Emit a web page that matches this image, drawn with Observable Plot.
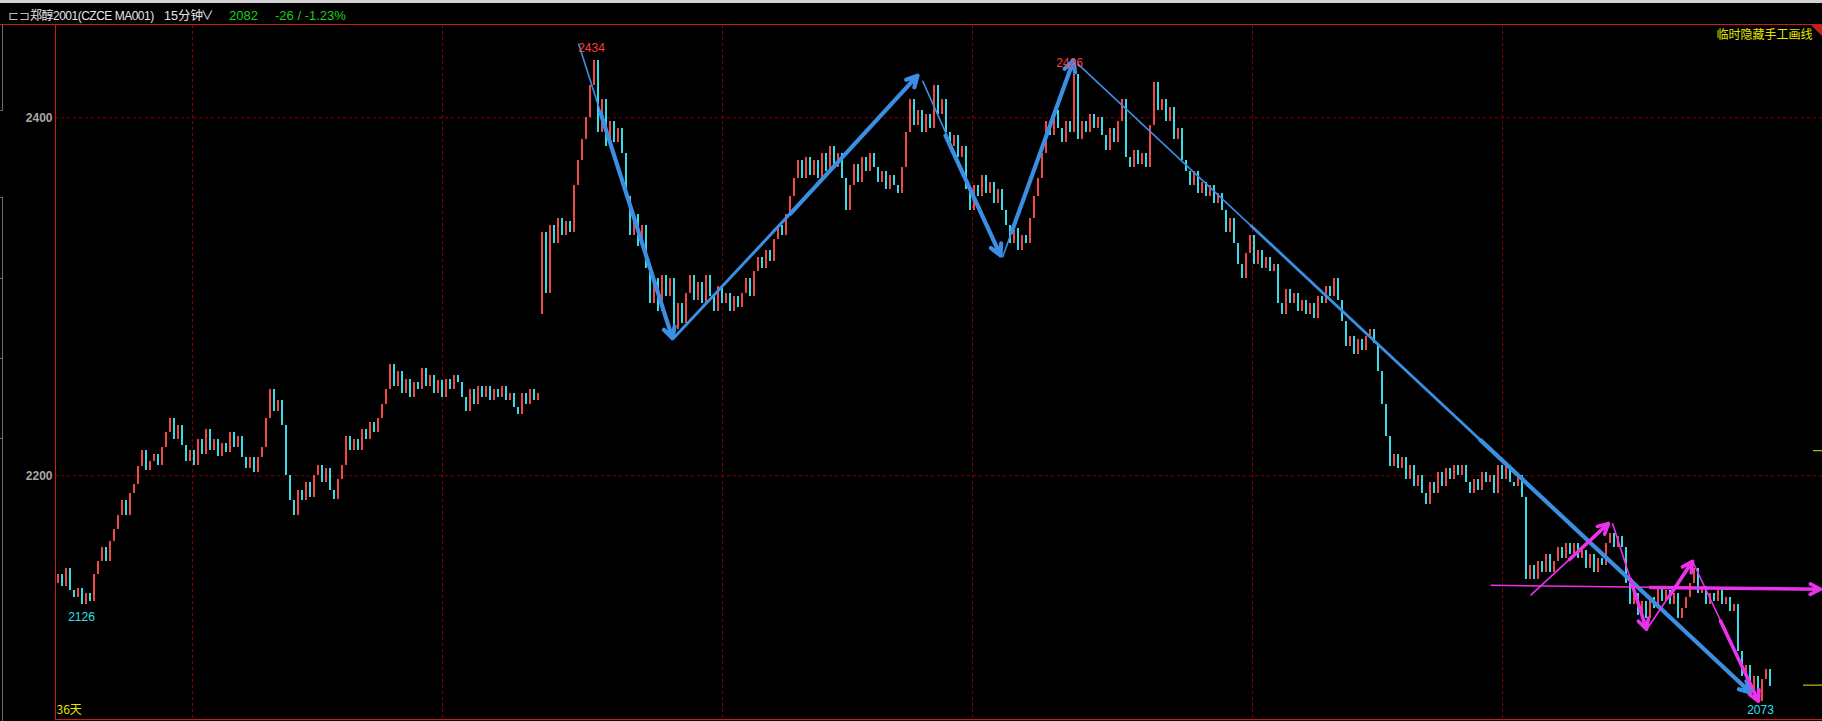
<!DOCTYPE html>
<html><head><meta charset="utf-8">
<script src="https://cdn.jsdelivr.net/npm/d3@7"></script>
<script src="https://cdn.jsdelivr.net/npm/@observablehq/plot@0.6"></script>
<style>
html,body{margin:0;padding:0;background:#000;width:1822px;height:721px;overflow:hidden;}
#hdr{position:relative;height:25px;box-sizing:border-box;border-top:3px solid #d2d2d2;border-bottom:1px solid #c41e1e;background:#000;font-family:"Liberation Sans","Noto Sans CJK SC",sans-serif;font-size:12.5px;color:#e6e6e6;}
#hdr span{position:absolute;top:5px;white-space:nowrap;line-height:16px;}
#chart{position:relative;}
.gl{position:absolute;background:#6a6a6a;}
#tri{position:absolute;right:0;top:25px;width:0;height:0;border-left:11px solid transparent;border-top:11px solid #c41e1e;}
</style></head><body>
<div id="hdr">
 <span style="left:8px;color:#bdbdbd">⊏⊐</span>
 <span style="left:30px;font-size:12px;letter-spacing:-0.5px">郑醇2001(CZCE MA001)</span>
 <span style="left:164px">15分钟</span><span style="left:201px">∨</span>
 <span style="left:229px;color:#1ecb1e;font-size:13px">2082</span>
 <span style="left:275px;color:#1ecb1e;font-size:13px">-26 / -1.23%</span>
</div>
<div id="chart"></div>
<div class="gl" style="left:2px;top:25px;width:1px;height:85px"></div>
<div class="gl" style="left:0px;top:110px;width:3px;height:1px"></div>
<div class="gl" style="left:0px;top:197px;width:3px;height:1px"></div>
<div class="gl" style="left:2px;top:197px;width:1px;height:524px"></div>
<div class="gl" style="left:0px;top:278px;width:3px;height:1px"></div>
<div class="gl" style="left:0px;top:358px;width:3px;height:1px"></div>
<div class="gl" style="left:0px;top:438px;width:3px;height:1px"></div>
<div id="tri"></div>
<script>
// ---- data (15-minute bars, each entry = close; open = previous close) ----
const open1 = 2140;
const close1 = [2145,2138,2148,2136,2132,2137,2128,2134,2130,2145,
 2152,2160,2152,2163,2170,2178,2186,2178,2190,2195,
 2205,2214,2203,2208,2212,2206,2216,2224,2232,2220,
 2228,2217,2208,2214,2206,2220,2212,2226,2214,2220,
 2211,2218,2213,2224,2216,2222,2210,2204,2210,2202,
 2210,2216,2232,2248,2236,2242,2228,2200,2186,2178,
 2192,2186,2196,2188,2200,2206,2196,2204,2192,2187,
 2198,2206,2222,2214,2220,2214,2226,2220,2230,2224,
 2232,2240,2248,2262,2250,2258,2246,2254,2244,2252,
 2248,2260,2250,2256,2246,2253,2244,2254,2248,2256,
 2252,2244,2236,2248,2240,2250,2244,2250,2242,2248,
 2244,2250,2242,2246,2238,2234,2246,2240,2248,2242,
 2246];
const open2 = 2290;
const close2 = [2336,2302,2340,2330,2344,2334,2342,2336,2362,2376,
 2388,2400,2418,2432,2392,2410,2384,2398,2386,2394,
 2380,2356,2334,2346,2328,2340,2316,2296,2310,2292,
 2312,2300,2310,2282,2296,2285,2302,2312,2298,2308,
 2296,2312,2300,2292,2306,2296,2302,2292,2300,2294,
 2302,2310,2300,2314,2322,2316,2326,2320,2332,2340,
 2334,2346,2356,2366,2376,2366,2378,2368,2376,2366,
 2380,2370,2384,2372,2380,2366,2348,2362,2374,2364,
 2378,2370,2380,2372,2364,2370,2360,2368,2362,2358,
 2372,2392,2410,2396,2404,2392,2402,2394,2418,2402,
 2410,2392,2384,2390,2378,2384,2360,2348,2362,2356,
 2368,2358,2364,2352,2360,2348,2340,2330,2338,2326,
 2334,2330,2344,2356,2366,2380,2398,2390,2404,2394,
 2386,2398,2392,2424,2388,2398,2392,2402,2394,2400,
 2390,2382,2394,2386,2398,2410,2378,2372,2382,2374,
 2380,2372,2396,2420,2404,2410,2398,2406,2388,2394,
 2376,2370,2362,2370,2358,2364,2356,2362,2352,2358,
 2348,2336,2344,2330,2318,2310,2324,2334,2318,2326,
 2316,2322,2314,2318,2296,2290,2304,2296,2302,2292,
 2298,2290,2296,2288,2300,2296,2306,2300,2310,2298,
 2286,2272,2278,2268,2276,2270,2278,2282,2274,2258,
 2240,2222,2205,2212,2204,2210,2198,2206,2194,2200,
 2190,2184,2196,2190,2202,2194,2204,2198,2206,2200,
 2206,2196,2190,2198,2192,2202,2196,2200,2190,2206,
 2198,2206,2196,2194,2200,2188,2142,2150,2142,2152,
 2146,2156,2146,2152,2160,2154,2162,2156,2162,2154,
 2158,2148,2156,2146,2154,2150,2162,2168,2160,2166,
 2160,2140,2128,2134,2122,2130,2120,2132,2126,2138,
 2130,2136,2128,2134,2120,2126,2132,2140,2148,2134,
 2138,2128,2134,2130,2136,2128,2132,2124,2128,2102,
 2088,2094,2080,2088,2074,2086,2092,2082];
const yTicks = [2200, 2400];
const sessionBreaks = [33.75, 96.25, 166.25, 228.75, 298.75, 361.25];
const markerPrices = [2214, 2083];
// hand-drawn lines: [i1, v1, i2, v2]
const blueThin = [[130.25,2441.5,153.75,2276.8],[154,2276.8,215,2423.6],[216.25,2420.8,235.75,2323.1],[236.25,2322,254,2432],[255,2430.3,423.25,2078.9]];
const blueMid = [[154,2276.8,183.25,2346.5],[298.25,2340,423.25,2078.9]];
const blueHeads = [[135.75,2402.9,153.75,2276.8],[183.25,2346.5,215,2423.6],[222,2390.1,235.75,2323.1],[238.5,2336,254,2432],[355.75,2219.9,423.25,2078.9]];
const pinkThin = [[368.25,2133.2,387.75,2173.4],[388.75,2173.4,397.25,2114.2],[397.5,2114.8,408.75,2152.2],[409,2151.1,425.25,2074.0],[358.25,2138.8,440.75,2136.6]];
const pinkHeads = [[378,2153.2,387.75,2173.4],[393.25,2142.1,397.25,2114.2],[402.75,2132.0,408.75,2152.2],[415.75,2118.8,425.25,2074.0],[398.25,2137.6,440.75,2136.6]];
const peakLabels = [{i:133.5, v:2438.7, t:"2434", c:"#ff3b3b"},{i:253, v:2430.3, t:"2426", c:"#ff3b3b"},{i:6, v:2120.8, t:"2126", c:"#2ee0ee"},{i:425.75, v:2068.9, t:"2073", c:"#2ee0ee"}];

// ---- build ----
const bars = [];
let prev = open1;
close1.forEach((c, k) => { bars.push({i: k, o: prev, c}); prev = c; });
prev = open2;
close2.forEach((c, k) => { bars.push({i: close1.length + k, o: prev, c}); prev = c; });
const seg = a => a.map(([x1, y1, x2, y2]) => ({x1, y1, x2, y2}));
const RED = "#f04646", CYAN = "#36dbe6", BLUE = "#3b8fe3", PINK = "#eb32eb", GRID = "#8b0000", FRAME = "#c41e1e";
const yMin = 2063.8, yMax = 2451.6;

const chart = Plot.plot({
  width: 1822, height: 696,
  marginLeft: 55, marginRight: 0, marginTop: 0, marginBottom: 2,
  style: {background: "#000", color: "#a8a8a8", fontSize: "12px", fontFamily: "Liberation Sans, sans-serif", fontWeight: "bold"},
  x: {domain: [-0.5, 441.25], axis: null},
  y: {domain: [yMin, yMax], ticks: yTicks, tickSize: 0, tickPadding: 3, label: null, tickFormat: d => String(d)},
  marks: [
    Plot.ruleY(yTicks, {stroke: GRID, strokeDasharray: "3,3"}),
    Plot.ruleX(sessionBreaks, {stroke: GRID, strokeDasharray: "3,3"}),
    Plot.ruleX(bars, {x: "i", y1: "o", y2: "c", strokeWidth: 2, shapeRendering: "crispEdges",
      stroke: d => d.c > d.o ? RED : d.c < d.o ? CYAN : "#ffffff"}),
    Plot.link(seg(blueThin), {x1: "x1", y1: "y1", x2: "x2", y2: "y2", stroke: BLUE, strokeWidth: 1.6}),
    Plot.link(seg(blueMid), {x1: "x1", y1: "y1", x2: "x2", y2: "y2", stroke: BLUE, strokeWidth: 2.8}),
    Plot.arrow(seg(blueHeads), {x1: "x1", y1: "y1", x2: "x2", y2: "y2", stroke: BLUE, strokeWidth: 4.2, headLength: 4.3, headAngle: 55}),
    Plot.link(seg(pinkThin), {x1: "x1", y1: "y1", x2: "x2", y2: "y2", stroke: PINK, strokeWidth: 1.6}),
    Plot.arrow(seg(pinkHeads), {x1: "x1", y1: "y1", x2: "x2", y2: "y2", stroke: PINK, strokeWidth: 3.6, headLength: 4.8, headAngle: 55}),
    Plot.text(peakLabels, {x: "i", y: "v", text: "t", fill: "c", fontSize: 12, fontWeight: "normal"}),
    Plot.text(["36天"], {x: -0.25, y: 2068.9, text: d => d, fill: "#e6e600", textAnchor: "start", fontSize: 12, fontWeight: "normal", fontFamily: "Noto Sans CJK SC"}),
    Plot.text(["临时隐藏手工画线"], {x: 438.75, y: 2446.4, text: d => d, fill: "#e6e600", textAnchor: "end", fontSize: 12, fontWeight: "normal", fontFamily: "Noto Sans CJK SC"}),
    Plot.ruleY([markerPrices[0]], {x1: 439, x2: 441.25, stroke: "#e6e600"}),
    Plot.ruleY([markerPrices[1]], {x1: 436.5, x2: 441.25, stroke: "#e6e600"}),
    Plot.ruleX([-0.5], {stroke: FRAME}),
    Plot.ruleY([yMin], {stroke: FRAME})
  ]
});
document.getElementById("chart").appendChild(chart);
</script>
</body></html>
